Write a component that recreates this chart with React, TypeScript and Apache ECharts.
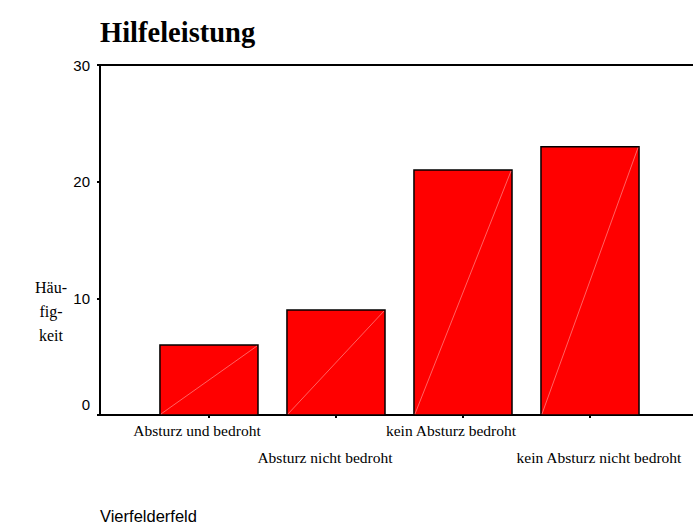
import React, { useEffect, useRef } from "react";
import * as echarts from "echarts";

const categories = [
  "Absturz und bedroht",
  "Absturz nicht bedroht",
  "kein Absturz bedroht",
  "kein Absturz nicht bedroht",
];
const counts = [6, 9, 21, 23];
const yTicks = [0, 10, 20, 30];
const titleText = "Hilfeleistung";
const yName = "Häu-\nfig-\nkeit";
const footer = "Vierfelderfeld";

export default function App() {
  const ref = useRef<HTMLDivElement>(null);
  useEffect(() => {
    document.body.style.margin = "0";
    const chart = echarts.init(ref.current!, null, { renderer: "svg" });
    const richLabels = ["a", "b", "c", "d"];
    const lbl = { fontFamily: "Liberation Serif", fontSize: 15.5, color: "#000" };
    chart.setOption({
      animation: false,
      backgroundColor: "#ffffff",
      title: [
        {
          text: titleText,
          left: 95,
          top: 13,
          textStyle: { fontFamily: "Liberation Serif", fontWeight: "bold", fontSize: 28.5, color: "#000" },
        },
        {
          text: footer,
          left: 95,
          top: 502,
          textStyle: { fontFamily: "Liberation Sans", fontWeight: "normal", fontSize: 16.5, color: "#000" },
        },
      ],
      graphic: [
        {
          type: "text",
          x: 51,
          y: 311,
          style: {
            text: yName,
            fontFamily: "Liberation Serif",
            fontSize: 16,
            lineHeight: 24,
            fill: "#000",
            align: "center",
            verticalAlign: "middle",
          },
        },
      ],
      grid: { left: 100, right: 0, top: 65, bottom: 110 },
      xAxis: [
        {
          type: "value",
          min: -0.858,
          max: 3.811,
          axisLine: { show: true, lineStyle: { color: "#000", width: 2 } },
          axisTick: { show: true, length: 3, customValues: [0, 1, 2, 3], lineStyle: { color: "#000", width: 2 } },
          axisLabel: {
            customValues: [0, 1, 2, 3],
            margin: 7,
            formatter: (v: number) => {
              const i = Math.round(v);
              return "{" + richLabels[i] + "|" + categories[i] + "}";
            },
            rich: {
              a: { ...lbl, padding: [0, 24, 0, 0] },
              b: { ...lbl, padding: [27, 22, 0, 0] },
              c: { ...lbl, padding: [0, 24, 0, 0] },
              d: { ...lbl, padding: [27, 0, 0, 18] },
            },
          },
          splitLine: { show: false },
        },
        {
          type: "value",
          position: "top",
          min: -0.858,
          max: 3.811,
          axisLine: { show: true, onZero: false, lineStyle: { color: "#000", width: 2 } },
          axisTick: { show: false },
          axisLabel: { show: false },
          splitLine: { show: false },
        },
      ],
      yAxis: {
        type: "value",
        min: 0,
        max: 30,
        interval: 10,
        axisLine: { show: true, onZero: false, lineStyle: { color: "#000", width: 2 } },
        axisTick: { show: true, length: 3, lineStyle: { color: "#000", width: 2 } },
        splitLine: { show: false },
        axisLabel: {
          margin: 10,
          customValues: yTicks,
          formatter: (v: number) => (v === 0 ? "{z|0}" : "{n|" + v + "}"),
          rich: {
            z: { fontFamily: "Liberation Sans", fontSize: 15, color: "#000", padding: [0, 0, 22, 0] },
            n: { fontFamily: "Liberation Sans", fontSize: 15, color: "#000" },
          },
        },
      },
      series: [
        {
          type: "custom",
          xAxisIndex: 0,
          data: counts.map((v, i) => [i, v]),
          renderItem: (params: any, api: any) => {
            const i = api.value(0);
            const v = api.value(1);
            const top = api.coord([i, v]);
            const base = api.coord([i, 0]);
            const w = api.size([0.772, 0])[0];
            const x0 = top[0] - w / 2;
            return {
              type: "group",
              children: [
                {
                  type: "rect",
                  shape: { x: x0, y: top[1], width: w, height: base[1] - top[1] },
                  style: { fill: "#ff0000", stroke: "#000", lineWidth: 1.5 },
                },
                {
                  type: "line",
                  shape: { x1: x0 + 1, y1: base[1] - 1, x2: x0 + w - 1, y2: top[1] + 1 },
                  style: { stroke: "#ff8c8c", lineWidth: 0.7 },
                },
              ],
            };
          },
        },
      ],
    });
    return () => chart.dispose();
  }, []);
  return <div ref={ref} style={{ width: 693, height: 525 }} />;
}
